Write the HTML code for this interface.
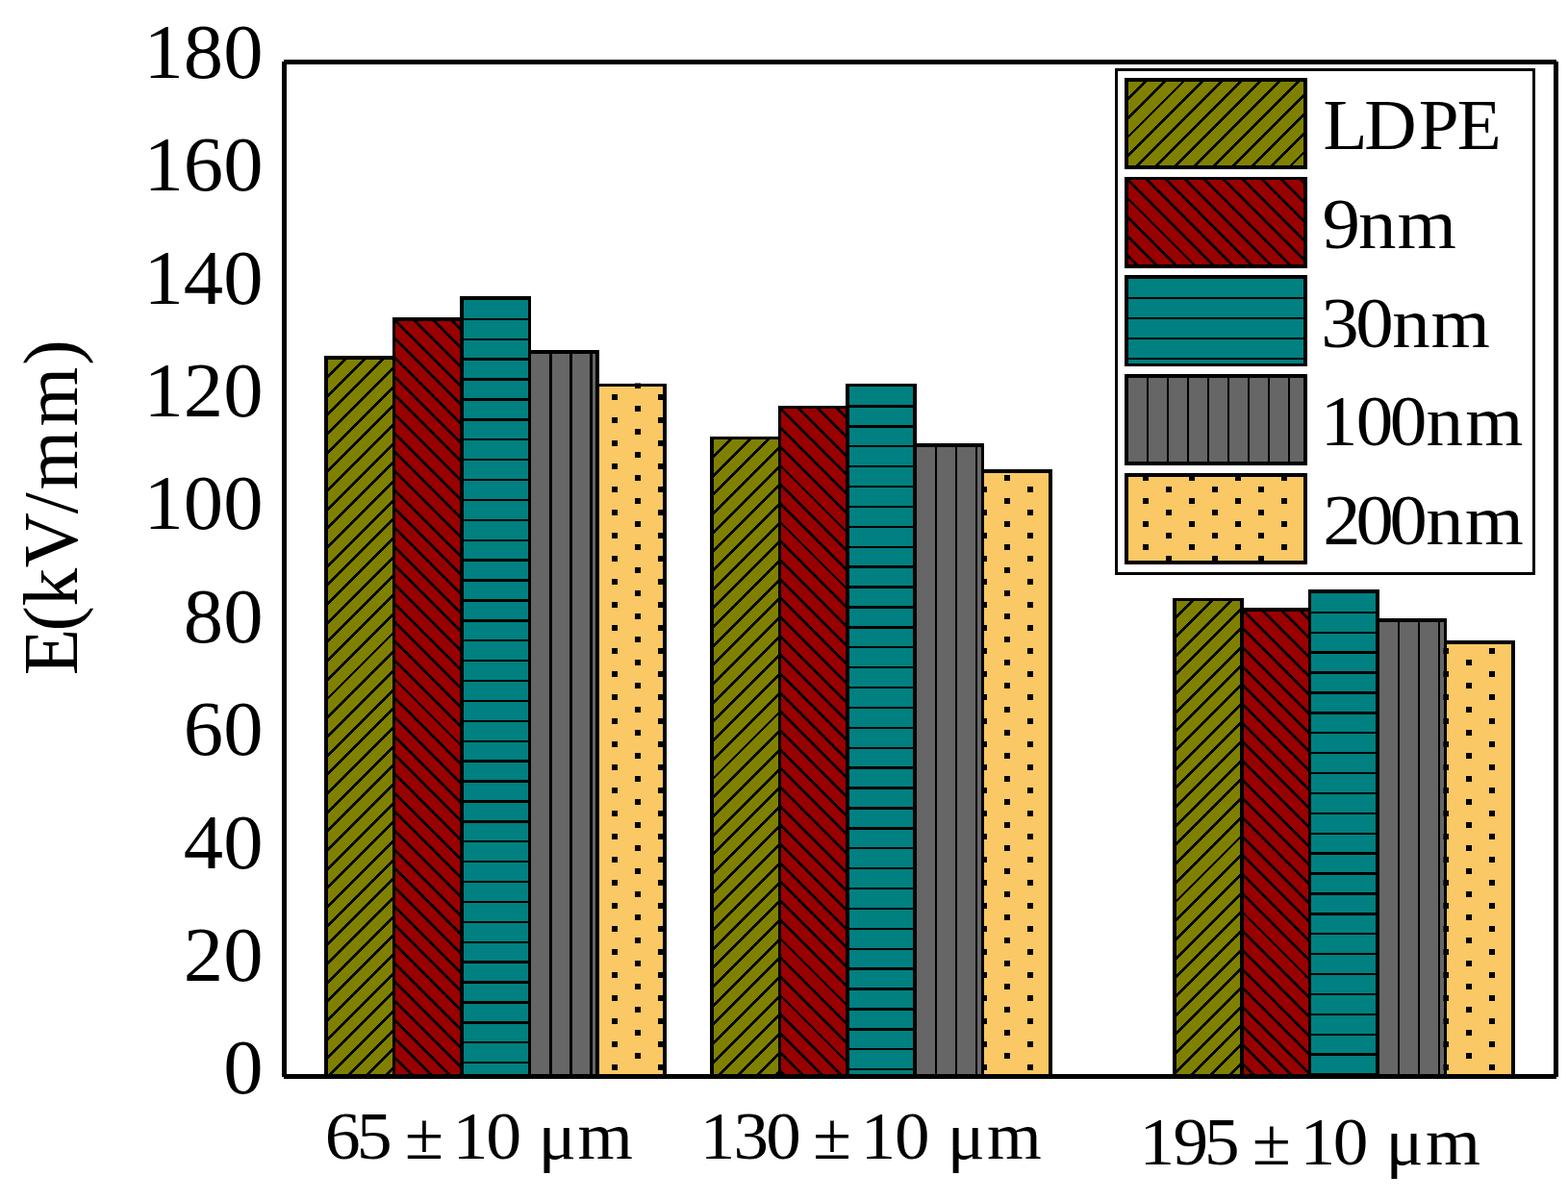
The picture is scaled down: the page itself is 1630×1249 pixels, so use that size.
<!DOCTYPE html>
<html><head><meta charset="utf-8"><title>E(kV/mm) bar chart</title>
<style>
html,body{margin:0;padding:0;background:#fff;}
svg{display:block;}
text{font-family:"Liberation Serif","DejaVu Serif",serif;fill:#000;}
</style></head>
<body>
<svg width="1630" height="1249" viewBox="0 0 1630 1249">
<defs>
<clipPath id="c339_372"><rect x="339.2" y="372.0" width="70.4" height="747.5"/></clipPath>
<clipPath id="c409_332"><rect x="409.6" y="332.0" width="70.4" height="787.5"/></clipPath>
<clipPath id="c480_310"><rect x="480.0" y="310.0" width="70.4" height="809.5"/></clipPath>
<clipPath id="c550_366"><rect x="550.4" y="366.0" width="70.4" height="753.5"/></clipPath>
<clipPath id="c620_400"><rect x="620.8" y="400.4" width="70.4" height="719.1"/></clipPath>
<clipPath id="d620_400"><rect x="618.8" y="398.4" width="74.4" height="721.1"/></clipPath>
<clipPath id="c740_455"><rect x="740.0" y="455.5" width="70.4" height="664.0"/></clipPath>
<clipPath id="c810_423"><rect x="810.4" y="423.5" width="70.4" height="696.0"/></clipPath>
<clipPath id="c880_400"><rect x="880.8" y="400.6" width="70.4" height="718.9"/></clipPath>
<clipPath id="c951_463"><rect x="951.2" y="463.0" width="70.4" height="656.5"/></clipPath>
<clipPath id="c1021_490"><rect x="1021.6" y="490.0" width="70.4" height="629.5"/></clipPath>
<clipPath id="d1021_490"><rect x="1019.6" y="488.0" width="74.4" height="631.5"/></clipPath>
<clipPath id="c1220_623"><rect x="1220.8" y="623.5" width="70.4" height="496.0"/></clipPath>
<clipPath id="c1291_634"><rect x="1291.2" y="634.0" width="70.4" height="485.5"/></clipPath>
<clipPath id="c1361_615"><rect x="1361.6" y="615.0" width="70.4" height="504.5"/></clipPath>
<clipPath id="c1432_645"><rect x="1432.0" y="645.0" width="70.4" height="474.5"/></clipPath>
<clipPath id="c1502_668"><rect x="1502.4" y="668.0" width="70.4" height="451.5"/></clipPath>
<clipPath id="d1502_668"><rect x="1500.4" y="666.0" width="74.4" height="453.5"/></clipPath>
<clipPath id="c1171_82"><rect x="1171.0" y="82.9" width="186.0" height="91.2"/></clipPath>
<clipPath id="c1171_185"><rect x="1171.0" y="185.6" width="186.0" height="91.2"/></clipPath>
<clipPath id="c1171_288"><rect x="1171.0" y="288.3" width="186.0" height="91.2"/></clipPath>
<clipPath id="c1171_391"><rect x="1171.0" y="391.0" width="186.0" height="91.2"/></clipPath>
<clipPath id="c1171_493"><rect x="1171.0" y="493.7" width="186.0" height="91.2"/></clipPath>
<clipPath id="d1171_493"><rect x="1169.0" y="491.7" width="190.0" height="95.2"/></clipPath>
</defs>
<rect width="1630" height="1249" fill="#fff"/>
<g shape-rendering="crispEdges">
<rect x="339.2" y="372.0" width="70.4" height="747.5" fill="#808000"/>
<path d="M321.40,352.00 L-466.10,1139.50 M341.08,352.00 L-446.42,1139.50 M360.76,352.00 L-426.74,1139.50 M380.44,352.00 L-407.06,1139.50 M400.12,352.00 L-387.38,1139.50 M419.80,352.00 L-367.70,1139.50 M439.48,352.00 L-348.02,1139.50 M459.16,352.00 L-328.34,1139.50 M478.84,352.00 L-308.66,1139.50 M498.52,352.00 L-288.98,1139.50 M518.20,352.00 L-269.30,1139.50 M537.88,352.00 L-249.62,1139.50 M557.56,352.00 L-229.94,1139.50 M577.24,352.00 L-210.26,1139.50 M596.92,352.00 L-190.58,1139.50 M616.60,352.00 L-170.90,1139.50 M636.28,352.00 L-151.22,1139.50 M655.96,352.00 L-131.54,1139.50 M675.64,352.00 L-111.86,1139.50 M695.32,352.00 L-92.18,1139.50 M715.00,352.00 L-72.50,1139.50 M734.68,352.00 L-52.82,1139.50 M754.36,352.00 L-33.14,1139.50 M774.04,352.00 L-13.46,1139.50 M793.72,352.00 L6.22,1139.50 M813.40,352.00 L25.90,1139.50 M833.08,352.00 L45.58,1139.50 M852.76,352.00 L65.26,1139.50 M872.44,352.00 L84.94,1139.50 M892.12,352.00 L104.62,1139.50 M911.80,352.00 L124.30,1139.50 M931.48,352.00 L143.98,1139.50 M951.16,352.00 L163.66,1139.50 M970.84,352.00 L183.34,1139.50 M990.52,352.00 L203.02,1139.50 M1010.20,352.00 L222.70,1139.50 M1029.88,352.00 L242.38,1139.50 M1049.56,352.00 L262.06,1139.50 M1069.24,352.00 L281.74,1139.50 M1088.92,352.00 L301.42,1139.50 M1108.60,352.00 L321.10,1139.50 M1128.28,352.00 L340.78,1139.50 M1147.96,352.00 L360.46,1139.50 M1167.64,352.00 L380.14,1139.50 M1187.32,352.00 L399.82,1139.50 M1207.00,352.00 L419.50,1139.50" stroke="#000" stroke-width="2.8" clip-path="url(#c339_372)"/>
<rect x="339.2" y="372.0" width="70.4" height="747.5" fill="none" stroke="#000" stroke-width="3.7"/>
<rect x="409.6" y="332.0" width="70.4" height="787.5" fill="#990000"/>
<path d="M-436.64,312.00 L390.86,1139.50 M-416.96,312.00 L410.54,1139.50 M-397.28,312.00 L430.22,1139.50 M-377.60,312.00 L449.90,1139.50 M-357.92,312.00 L469.58,1139.50 M-338.24,312.00 L489.26,1139.50 M-318.56,312.00 L508.94,1139.50 M-298.88,312.00 L528.62,1139.50 M-279.20,312.00 L548.30,1139.50 M-259.52,312.00 L567.98,1139.50 M-239.84,312.00 L587.66,1139.50 M-220.16,312.00 L607.34,1139.50 M-200.48,312.00 L627.02,1139.50 M-180.80,312.00 L646.70,1139.50 M-161.12,312.00 L666.38,1139.50 M-141.44,312.00 L686.06,1139.50 M-121.76,312.00 L705.74,1139.50 M-102.08,312.00 L725.42,1139.50 M-82.40,312.00 L745.10,1139.50 M-62.72,312.00 L764.78,1139.50 M-43.04,312.00 L784.46,1139.50 M-23.36,312.00 L804.14,1139.50 M-3.68,312.00 L823.82,1139.50 M16.00,312.00 L843.50,1139.50 M35.68,312.00 L863.18,1139.50 M55.36,312.00 L882.86,1139.50 M75.04,312.00 L902.54,1139.50 M94.72,312.00 L922.22,1139.50 M114.40,312.00 L941.90,1139.50 M134.08,312.00 L961.58,1139.50 M153.76,312.00 L981.26,1139.50 M173.44,312.00 L1000.94,1139.50 M193.12,312.00 L1020.62,1139.50 M212.80,312.00 L1040.30,1139.50 M232.48,312.00 L1059.98,1139.50 M252.16,312.00 L1079.66,1139.50 M271.84,312.00 L1099.34,1139.50 M291.52,312.00 L1119.02,1139.50 M311.20,312.00 L1138.70,1139.50 M330.88,312.00 L1158.38,1139.50 M350.56,312.00 L1178.06,1139.50 M370.24,312.00 L1197.74,1139.50 M389.92,312.00 L1217.42,1139.50 M409.60,312.00 L1237.10,1139.50 M429.28,312.00 L1256.78,1139.50 M448.96,312.00 L1276.46,1139.50 M468.64,312.00 L1296.14,1139.50 M488.32,312.00 L1315.82,1139.50" stroke="#000" stroke-width="2.8" clip-path="url(#c409_332)"/>
<rect x="409.6" y="332.0" width="70.4" height="787.5" fill="none" stroke="#000" stroke-width="3.7"/>
<rect x="480.0" y="310.0" width="70.4" height="809.5" fill="#008080"/>
<path d="M480.00,331.80 H550.40 M480.00,352.70 H550.40 M480.00,373.60 H550.40 M480.00,394.50 H550.40 M480.00,415.40 H550.40 M480.00,436.30 H550.40 M480.00,457.20 H550.40 M480.00,478.10 H550.40 M480.00,499.00 H550.40 M480.00,519.90 H550.40 M480.00,540.80 H550.40 M480.00,561.70 H550.40 M480.00,582.60 H550.40 M480.00,603.50 H550.40 M480.00,624.40 H550.40 M480.00,645.30 H550.40 M480.00,666.20 H550.40 M480.00,687.10 H550.40 M480.00,708.00 H550.40 M480.00,728.90 H550.40 M480.00,749.80 H550.40 M480.00,770.70 H550.40 M480.00,791.60 H550.40 M480.00,812.50 H550.40 M480.00,833.40 H550.40 M480.00,854.30 H550.40 M480.00,875.20 H550.40 M480.00,896.10 H550.40 M480.00,917.00 H550.40 M480.00,937.90 H550.40 M480.00,958.80 H550.40 M480.00,979.70 H550.40 M480.00,1000.60 H550.40 M480.00,1021.50 H550.40 M480.00,1042.40 H550.40 M480.00,1063.30 H550.40 M480.00,1084.20 H550.40 M480.00,1105.10 H550.40" stroke="#000" stroke-width="2.4"/>
<rect x="480.0" y="310.0" width="70.4" height="809.5" fill="none" stroke="#000" stroke-width="3.7"/>
<rect x="550.4" y="366.0" width="70.4" height="753.5" fill="#666666"/>
<path d="M572.40,366.00 V1119.50 M593.40,366.00 V1119.50 M614.40,366.00 V1119.50" stroke="#000" stroke-width="2.4"/>
<rect x="550.4" y="366.0" width="70.4" height="753.5" fill="none" stroke="#000" stroke-width="3.7"/>
<rect x="620.8" y="400.4" width="70.4" height="719.1" fill="#FAC864"/>
<rect x="620.8" y="400.4" width="70.4" height="719.1" fill="none" stroke="#000" stroke-width="3.7"/>
<path d="M635.7,409.8h6.0v6.0h-6.0zM635.7,433.9h6.0v6.0h-6.0zM635.7,457.9h6.0v6.0h-6.0zM635.7,482.0h6.0v6.0h-6.0zM635.7,506.0h6.0v6.0h-6.0zM635.7,530.1h6.0v6.0h-6.0zM635.7,554.1h6.0v6.0h-6.0zM635.7,578.1h6.0v6.0h-6.0zM635.7,602.2h6.0v6.0h-6.0zM635.7,626.2h6.0v6.0h-6.0zM635.7,650.3h6.0v6.0h-6.0zM635.7,674.3h6.0v6.0h-6.0zM635.7,698.4h6.0v6.0h-6.0zM635.7,722.4h6.0v6.0h-6.0zM635.7,746.5h6.0v6.0h-6.0zM635.7,770.5h6.0v6.0h-6.0zM635.7,794.6h6.0v6.0h-6.0zM635.7,818.6h6.0v6.0h-6.0zM635.7,842.7h6.0v6.0h-6.0zM635.7,866.7h6.0v6.0h-6.0zM635.7,890.8h6.0v6.0h-6.0zM635.7,914.8h6.0v6.0h-6.0zM635.7,938.9h6.0v6.0h-6.0zM635.7,962.9h6.0v6.0h-6.0zM635.7,987.0h6.0v6.0h-6.0zM635.7,1011.0h6.0v6.0h-6.0zM635.7,1035.1h6.0v6.0h-6.0zM635.7,1059.1h6.0v6.0h-6.0zM635.7,1083.2h6.0v6.0h-6.0zM635.7,1107.2h6.0v6.0h-6.0zM683.7,409.8h6.0v6.0h-6.0zM683.7,433.9h6.0v6.0h-6.0zM683.7,457.9h6.0v6.0h-6.0zM683.7,482.0h6.0v6.0h-6.0zM683.7,506.0h6.0v6.0h-6.0zM683.7,530.1h6.0v6.0h-6.0zM683.7,554.1h6.0v6.0h-6.0zM683.7,578.1h6.0v6.0h-6.0zM683.7,602.2h6.0v6.0h-6.0zM683.7,626.2h6.0v6.0h-6.0zM683.7,650.3h6.0v6.0h-6.0zM683.7,674.3h6.0v6.0h-6.0zM683.7,698.4h6.0v6.0h-6.0zM683.7,722.4h6.0v6.0h-6.0zM683.7,746.5h6.0v6.0h-6.0zM683.7,770.5h6.0v6.0h-6.0zM683.7,794.6h6.0v6.0h-6.0zM683.7,818.6h6.0v6.0h-6.0zM683.7,842.7h6.0v6.0h-6.0zM683.7,866.7h6.0v6.0h-6.0zM683.7,890.8h6.0v6.0h-6.0zM683.7,914.8h6.0v6.0h-6.0zM683.7,938.9h6.0v6.0h-6.0zM683.7,962.9h6.0v6.0h-6.0zM683.7,987.0h6.0v6.0h-6.0zM683.7,1011.0h6.0v6.0h-6.0zM683.7,1035.1h6.0v6.0h-6.0zM683.7,1059.1h6.0v6.0h-6.0zM683.7,1083.2h6.0v6.0h-6.0zM683.7,1107.2h6.0v6.0h-6.0zM611.7,397.8h6.0v6.0h-6.0zM611.7,421.9h6.0v6.0h-6.0zM611.7,445.9h6.0v6.0h-6.0zM611.7,470.0h6.0v6.0h-6.0zM611.7,494.0h6.0v6.0h-6.0zM611.7,518.1h6.0v6.0h-6.0zM611.7,542.1h6.0v6.0h-6.0zM611.7,566.1h6.0v6.0h-6.0zM611.7,590.2h6.0v6.0h-6.0zM611.7,614.2h6.0v6.0h-6.0zM611.7,638.3h6.0v6.0h-6.0zM611.7,662.3h6.0v6.0h-6.0zM611.7,686.4h6.0v6.0h-6.0zM611.7,710.4h6.0v6.0h-6.0zM611.7,734.5h6.0v6.0h-6.0zM611.7,758.5h6.0v6.0h-6.0zM611.7,782.6h6.0v6.0h-6.0zM611.7,806.6h6.0v6.0h-6.0zM611.7,830.7h6.0v6.0h-6.0zM611.7,854.7h6.0v6.0h-6.0zM611.7,878.8h6.0v6.0h-6.0zM611.7,902.8h6.0v6.0h-6.0zM611.7,926.9h6.0v6.0h-6.0zM611.7,950.9h6.0v6.0h-6.0zM611.7,975.0h6.0v6.0h-6.0zM611.7,999.0h6.0v6.0h-6.0zM611.7,1023.1h6.0v6.0h-6.0zM611.7,1047.1h6.0v6.0h-6.0zM611.7,1071.2h6.0v6.0h-6.0zM611.7,1095.2h6.0v6.0h-6.0zM611.7,1119.3h6.0v6.0h-6.0zM659.7,397.8h6.0v6.0h-6.0zM659.7,421.9h6.0v6.0h-6.0zM659.7,445.9h6.0v6.0h-6.0zM659.7,470.0h6.0v6.0h-6.0zM659.7,494.0h6.0v6.0h-6.0zM659.7,518.1h6.0v6.0h-6.0zM659.7,542.1h6.0v6.0h-6.0zM659.7,566.1h6.0v6.0h-6.0zM659.7,590.2h6.0v6.0h-6.0zM659.7,614.2h6.0v6.0h-6.0zM659.7,638.3h6.0v6.0h-6.0zM659.7,662.3h6.0v6.0h-6.0zM659.7,686.4h6.0v6.0h-6.0zM659.7,710.4h6.0v6.0h-6.0zM659.7,734.5h6.0v6.0h-6.0zM659.7,758.5h6.0v6.0h-6.0zM659.7,782.6h6.0v6.0h-6.0zM659.7,806.6h6.0v6.0h-6.0zM659.7,830.7h6.0v6.0h-6.0zM659.7,854.7h6.0v6.0h-6.0zM659.7,878.8h6.0v6.0h-6.0zM659.7,902.8h6.0v6.0h-6.0zM659.7,926.9h6.0v6.0h-6.0zM659.7,950.9h6.0v6.0h-6.0zM659.7,975.0h6.0v6.0h-6.0zM659.7,999.0h6.0v6.0h-6.0zM659.7,1023.1h6.0v6.0h-6.0zM659.7,1047.1h6.0v6.0h-6.0zM659.7,1071.2h6.0v6.0h-6.0zM659.7,1095.2h6.0v6.0h-6.0zM659.7,1119.3h6.0v6.0h-6.0z" fill="#000" clip-path="url(#d620_400)"/>
<rect x="740.0" y="455.5" width="70.4" height="664.0" fill="#808000"/>
<path d="M721.90,435.50 L17.90,1139.50 M741.58,435.50 L37.58,1139.50 M761.26,435.50 L57.26,1139.50 M780.94,435.50 L76.94,1139.50 M800.62,435.50 L96.62,1139.50 M820.30,435.50 L116.30,1139.50 M839.98,435.50 L135.98,1139.50 M859.66,435.50 L155.66,1139.50 M879.34,435.50 L175.34,1139.50 M899.02,435.50 L195.02,1139.50 M918.70,435.50 L214.70,1139.50 M938.38,435.50 L234.38,1139.50 M958.06,435.50 L254.06,1139.50 M977.74,435.50 L273.74,1139.50 M997.42,435.50 L293.42,1139.50 M1017.10,435.50 L313.10,1139.50 M1036.78,435.50 L332.78,1139.50 M1056.46,435.50 L352.46,1139.50 M1076.14,435.50 L372.14,1139.50 M1095.82,435.50 L391.82,1139.50 M1115.50,435.50 L411.50,1139.50 M1135.18,435.50 L431.18,1139.50 M1154.86,435.50 L450.86,1139.50 M1174.54,435.50 L470.54,1139.50 M1194.22,435.50 L490.22,1139.50 M1213.90,435.50 L509.90,1139.50 M1233.58,435.50 L529.58,1139.50 M1253.26,435.50 L549.26,1139.50 M1272.94,435.50 L568.94,1139.50 M1292.62,435.50 L588.62,1139.50 M1312.30,435.50 L608.30,1139.50 M1331.98,435.50 L627.98,1139.50 M1351.66,435.50 L647.66,1139.50 M1371.34,435.50 L667.34,1139.50 M1391.02,435.50 L687.02,1139.50 M1410.70,435.50 L706.70,1139.50 M1430.38,435.50 L726.38,1139.50 M1450.06,435.50 L746.06,1139.50 M1469.74,435.50 L765.74,1139.50 M1489.42,435.50 L785.42,1139.50 M1509.10,435.50 L805.10,1139.50" stroke="#000" stroke-width="2.8" clip-path="url(#c740_455)"/>
<rect x="740.0" y="455.5" width="70.4" height="664.0" fill="none" stroke="#000" stroke-width="3.7"/>
<rect x="810.4" y="423.5" width="70.4" height="696.0" fill="#990000"/>
<path d="M61.40,403.50 L797.40,1139.50 M81.08,403.50 L817.08,1139.50 M100.76,403.50 L836.76,1139.50 M120.44,403.50 L856.44,1139.50 M140.12,403.50 L876.12,1139.50 M159.80,403.50 L895.80,1139.50 M179.48,403.50 L915.48,1139.50 M199.16,403.50 L935.16,1139.50 M218.84,403.50 L954.84,1139.50 M238.52,403.50 L974.52,1139.50 M258.20,403.50 L994.20,1139.50 M277.88,403.50 L1013.88,1139.50 M297.56,403.50 L1033.56,1139.50 M317.24,403.50 L1053.24,1139.50 M336.92,403.50 L1072.92,1139.50 M356.60,403.50 L1092.60,1139.50 M376.28,403.50 L1112.28,1139.50 M395.96,403.50 L1131.96,1139.50 M415.64,403.50 L1151.64,1139.50 M435.32,403.50 L1171.32,1139.50 M455.00,403.50 L1191.00,1139.50 M474.68,403.50 L1210.68,1139.50 M494.36,403.50 L1230.36,1139.50 M514.04,403.50 L1250.04,1139.50 M533.72,403.50 L1269.72,1139.50 M553.40,403.50 L1289.40,1139.50 M573.08,403.50 L1309.08,1139.50 M592.76,403.50 L1328.76,1139.50 M612.44,403.50 L1348.44,1139.50 M632.12,403.50 L1368.12,1139.50 M651.80,403.50 L1387.80,1139.50 M671.48,403.50 L1407.48,1139.50 M691.16,403.50 L1427.16,1139.50 M710.84,403.50 L1446.84,1139.50 M730.52,403.50 L1466.52,1139.50 M750.20,403.50 L1486.20,1139.50 M769.88,403.50 L1505.88,1139.50 M789.56,403.50 L1525.56,1139.50 M809.24,403.50 L1545.24,1139.50 M828.92,403.50 L1564.92,1139.50 M848.60,403.50 L1584.60,1139.50 M868.28,403.50 L1604.28,1139.50 M887.96,403.50 L1623.96,1139.50" stroke="#000" stroke-width="2.8" clip-path="url(#c810_423)"/>
<rect x="810.4" y="423.5" width="70.4" height="696.0" fill="none" stroke="#000" stroke-width="3.7"/>
<rect x="880.8" y="400.6" width="70.4" height="718.9" fill="#008080"/>
<path d="M880.80,422.40 H951.20 M880.80,443.30 H951.20 M880.80,464.20 H951.20 M880.80,485.10 H951.20 M880.80,506.00 H951.20 M880.80,526.90 H951.20 M880.80,547.80 H951.20 M880.80,568.70 H951.20 M880.80,589.60 H951.20 M880.80,610.50 H951.20 M880.80,631.40 H951.20 M880.80,652.30 H951.20 M880.80,673.20 H951.20 M880.80,694.10 H951.20 M880.80,715.00 H951.20 M880.80,735.90 H951.20 M880.80,756.80 H951.20 M880.80,777.70 H951.20 M880.80,798.60 H951.20 M880.80,819.50 H951.20 M880.80,840.40 H951.20 M880.80,861.30 H951.20 M880.80,882.20 H951.20 M880.80,903.10 H951.20 M880.80,924.00 H951.20 M880.80,944.90 H951.20 M880.80,965.80 H951.20 M880.80,986.70 H951.20 M880.80,1007.60 H951.20 M880.80,1028.50 H951.20 M880.80,1049.40 H951.20 M880.80,1070.30 H951.20 M880.80,1091.20 H951.20 M880.80,1112.10 H951.20" stroke="#000" stroke-width="2.4"/>
<rect x="880.8" y="400.6" width="70.4" height="718.9" fill="none" stroke="#000" stroke-width="3.7"/>
<rect x="951.2" y="463.0" width="70.4" height="656.5" fill="#666666"/>
<path d="M973.20,463.00 V1119.50 M994.20,463.00 V1119.50 M1015.20,463.00 V1119.50" stroke="#000" stroke-width="2.4"/>
<rect x="951.2" y="463.0" width="70.4" height="656.5" fill="none" stroke="#000" stroke-width="3.7"/>
<rect x="1021.6" y="490.0" width="70.4" height="629.5" fill="#FAC864"/>
<rect x="1021.6" y="490.0" width="70.4" height="629.5" fill="none" stroke="#000" stroke-width="3.7"/>
<path d="M1019.7,482.0h6.0v6.0h-6.0zM1019.7,506.0h6.0v6.0h-6.0zM1019.7,530.1h6.0v6.0h-6.0zM1019.7,554.1h6.0v6.0h-6.0zM1019.7,578.1h6.0v6.0h-6.0zM1019.7,602.2h6.0v6.0h-6.0zM1019.7,626.2h6.0v6.0h-6.0zM1019.7,650.3h6.0v6.0h-6.0zM1019.7,674.3h6.0v6.0h-6.0zM1019.7,698.4h6.0v6.0h-6.0zM1019.7,722.4h6.0v6.0h-6.0zM1019.7,746.5h6.0v6.0h-6.0zM1019.7,770.5h6.0v6.0h-6.0zM1019.7,794.6h6.0v6.0h-6.0zM1019.7,818.6h6.0v6.0h-6.0zM1019.7,842.7h6.0v6.0h-6.0zM1019.7,866.7h6.0v6.0h-6.0zM1019.7,890.8h6.0v6.0h-6.0zM1019.7,914.8h6.0v6.0h-6.0zM1019.7,938.9h6.0v6.0h-6.0zM1019.7,962.9h6.0v6.0h-6.0zM1019.7,987.0h6.0v6.0h-6.0zM1019.7,1011.0h6.0v6.0h-6.0zM1019.7,1035.1h6.0v6.0h-6.0zM1019.7,1059.1h6.0v6.0h-6.0zM1019.7,1083.2h6.0v6.0h-6.0zM1019.7,1107.2h6.0v6.0h-6.0zM1067.7,482.0h6.0v6.0h-6.0zM1067.7,506.0h6.0v6.0h-6.0zM1067.7,530.1h6.0v6.0h-6.0zM1067.7,554.1h6.0v6.0h-6.0zM1067.7,578.1h6.0v6.0h-6.0zM1067.7,602.2h6.0v6.0h-6.0zM1067.7,626.2h6.0v6.0h-6.0zM1067.7,650.3h6.0v6.0h-6.0zM1067.7,674.3h6.0v6.0h-6.0zM1067.7,698.4h6.0v6.0h-6.0zM1067.7,722.4h6.0v6.0h-6.0zM1067.7,746.5h6.0v6.0h-6.0zM1067.7,770.5h6.0v6.0h-6.0zM1067.7,794.6h6.0v6.0h-6.0zM1067.7,818.6h6.0v6.0h-6.0zM1067.7,842.7h6.0v6.0h-6.0zM1067.7,866.7h6.0v6.0h-6.0zM1067.7,890.8h6.0v6.0h-6.0zM1067.7,914.8h6.0v6.0h-6.0zM1067.7,938.9h6.0v6.0h-6.0zM1067.7,962.9h6.0v6.0h-6.0zM1067.7,987.0h6.0v6.0h-6.0zM1067.7,1011.0h6.0v6.0h-6.0zM1067.7,1035.1h6.0v6.0h-6.0zM1067.7,1059.1h6.0v6.0h-6.0zM1067.7,1083.2h6.0v6.0h-6.0zM1067.7,1107.2h6.0v6.0h-6.0zM1043.7,494.0h6.0v6.0h-6.0zM1043.7,518.1h6.0v6.0h-6.0zM1043.7,542.1h6.0v6.0h-6.0zM1043.7,566.1h6.0v6.0h-6.0zM1043.7,590.2h6.0v6.0h-6.0zM1043.7,614.2h6.0v6.0h-6.0zM1043.7,638.3h6.0v6.0h-6.0zM1043.7,662.3h6.0v6.0h-6.0zM1043.7,686.4h6.0v6.0h-6.0zM1043.7,710.4h6.0v6.0h-6.0zM1043.7,734.5h6.0v6.0h-6.0zM1043.7,758.5h6.0v6.0h-6.0zM1043.7,782.6h6.0v6.0h-6.0zM1043.7,806.6h6.0v6.0h-6.0zM1043.7,830.7h6.0v6.0h-6.0zM1043.7,854.7h6.0v6.0h-6.0zM1043.7,878.8h6.0v6.0h-6.0zM1043.7,902.8h6.0v6.0h-6.0zM1043.7,926.9h6.0v6.0h-6.0zM1043.7,950.9h6.0v6.0h-6.0zM1043.7,975.0h6.0v6.0h-6.0zM1043.7,999.0h6.0v6.0h-6.0zM1043.7,1023.1h6.0v6.0h-6.0zM1043.7,1047.1h6.0v6.0h-6.0zM1043.7,1071.2h6.0v6.0h-6.0zM1043.7,1095.2h6.0v6.0h-6.0zM1043.7,1119.3h6.0v6.0h-6.0zM1091.7,494.0h6.0v6.0h-6.0zM1091.7,518.1h6.0v6.0h-6.0zM1091.7,542.1h6.0v6.0h-6.0zM1091.7,566.1h6.0v6.0h-6.0zM1091.7,590.2h6.0v6.0h-6.0zM1091.7,614.2h6.0v6.0h-6.0zM1091.7,638.3h6.0v6.0h-6.0zM1091.7,662.3h6.0v6.0h-6.0zM1091.7,686.4h6.0v6.0h-6.0zM1091.7,710.4h6.0v6.0h-6.0zM1091.7,734.5h6.0v6.0h-6.0zM1091.7,758.5h6.0v6.0h-6.0zM1091.7,782.6h6.0v6.0h-6.0zM1091.7,806.6h6.0v6.0h-6.0zM1091.7,830.7h6.0v6.0h-6.0zM1091.7,854.7h6.0v6.0h-6.0zM1091.7,878.8h6.0v6.0h-6.0zM1091.7,902.8h6.0v6.0h-6.0zM1091.7,926.9h6.0v6.0h-6.0zM1091.7,950.9h6.0v6.0h-6.0zM1091.7,975.0h6.0v6.0h-6.0zM1091.7,999.0h6.0v6.0h-6.0zM1091.7,1023.1h6.0v6.0h-6.0zM1091.7,1047.1h6.0v6.0h-6.0zM1091.7,1071.2h6.0v6.0h-6.0zM1091.7,1095.2h6.0v6.0h-6.0zM1091.7,1119.3h6.0v6.0h-6.0z" fill="#000" clip-path="url(#d1021_490)"/>
<rect x="1220.8" y="623.5" width="70.4" height="496.0" fill="#808000"/>
<path d="M1202.26,603.50 L666.26,1139.50 M1221.94,603.50 L685.94,1139.50 M1241.62,603.50 L705.62,1139.50 M1261.30,603.50 L725.30,1139.50 M1280.98,603.50 L744.98,1139.50 M1300.66,603.50 L764.66,1139.50 M1320.34,603.50 L784.34,1139.50 M1340.02,603.50 L804.02,1139.50 M1359.70,603.50 L823.70,1139.50 M1379.38,603.50 L843.38,1139.50 M1399.06,603.50 L863.06,1139.50 M1418.74,603.50 L882.74,1139.50 M1438.42,603.50 L902.42,1139.50 M1458.10,603.50 L922.10,1139.50 M1477.78,603.50 L941.78,1139.50 M1497.46,603.50 L961.46,1139.50 M1517.14,603.50 L981.14,1139.50 M1536.82,603.50 L1000.82,1139.50 M1556.50,603.50 L1020.50,1139.50 M1576.18,603.50 L1040.18,1139.50 M1595.86,603.50 L1059.86,1139.50 M1615.54,603.50 L1079.54,1139.50 M1635.22,603.50 L1099.22,1139.50 M1654.90,603.50 L1118.90,1139.50 M1674.58,603.50 L1138.58,1139.50 M1694.26,603.50 L1158.26,1139.50 M1713.94,603.50 L1177.94,1139.50 M1733.62,603.50 L1197.62,1139.50 M1753.30,603.50 L1217.30,1139.50 M1772.98,603.50 L1236.98,1139.50 M1792.66,603.50 L1256.66,1139.50 M1812.34,603.50 L1276.34,1139.50 M1832.02,603.50 L1296.02,1139.50" stroke="#000" stroke-width="2.8" clip-path="url(#c1220_623)"/>
<rect x="1220.8" y="623.5" width="70.4" height="496.0" fill="none" stroke="#000" stroke-width="3.7"/>
<rect x="1291.2" y="634.0" width="70.4" height="485.5" fill="#990000"/>
<path d="M740.52,614.00 L1266.02,1139.50 M760.20,614.00 L1285.70,1139.50 M779.88,614.00 L1305.38,1139.50 M799.56,614.00 L1325.06,1139.50 M819.24,614.00 L1344.74,1139.50 M838.92,614.00 L1364.42,1139.50 M858.60,614.00 L1384.10,1139.50 M878.28,614.00 L1403.78,1139.50 M897.96,614.00 L1423.46,1139.50 M917.64,614.00 L1443.14,1139.50 M937.32,614.00 L1462.82,1139.50 M957.00,614.00 L1482.50,1139.50 M976.68,614.00 L1502.18,1139.50 M996.36,614.00 L1521.86,1139.50 M1016.04,614.00 L1541.54,1139.50 M1035.72,614.00 L1561.22,1139.50 M1055.40,614.00 L1580.90,1139.50 M1075.08,614.00 L1600.58,1139.50 M1094.76,614.00 L1620.26,1139.50 M1114.44,614.00 L1639.94,1139.50 M1134.12,614.00 L1659.62,1139.50 M1153.80,614.00 L1679.30,1139.50 M1173.48,614.00 L1698.98,1139.50 M1193.16,614.00 L1718.66,1139.50 M1212.84,614.00 L1738.34,1139.50 M1232.52,614.00 L1758.02,1139.50 M1252.20,614.00 L1777.70,1139.50 M1271.88,614.00 L1797.38,1139.50 M1291.56,614.00 L1817.06,1139.50 M1311.24,614.00 L1836.74,1139.50 M1330.92,614.00 L1856.42,1139.50 M1350.60,614.00 L1876.10,1139.50 M1370.28,614.00 L1895.78,1139.50" stroke="#000" stroke-width="2.8" clip-path="url(#c1291_634)"/>
<rect x="1291.2" y="634.0" width="70.4" height="485.5" fill="none" stroke="#000" stroke-width="3.7"/>
<rect x="1361.6" y="615.0" width="70.4" height="504.5" fill="#008080"/>
<path d="M1361.60,636.80 H1432.00 M1361.60,657.70 H1432.00 M1361.60,678.60 H1432.00 M1361.60,699.50 H1432.00 M1361.60,720.40 H1432.00 M1361.60,741.30 H1432.00 M1361.60,762.20 H1432.00 M1361.60,783.10 H1432.00 M1361.60,804.00 H1432.00 M1361.60,824.90 H1432.00 M1361.60,845.80 H1432.00 M1361.60,866.70 H1432.00 M1361.60,887.60 H1432.00 M1361.60,908.50 H1432.00 M1361.60,929.40 H1432.00 M1361.60,950.30 H1432.00 M1361.60,971.20 H1432.00 M1361.60,992.10 H1432.00 M1361.60,1013.00 H1432.00 M1361.60,1033.90 H1432.00 M1361.60,1054.80 H1432.00 M1361.60,1075.70 H1432.00 M1361.60,1096.60 H1432.00 M1361.60,1117.50 H1432.00" stroke="#000" stroke-width="2.4"/>
<rect x="1361.6" y="615.0" width="70.4" height="504.5" fill="none" stroke="#000" stroke-width="3.7"/>
<rect x="1432.0" y="645.0" width="70.4" height="474.5" fill="#666666"/>
<path d="M1454.00,645.00 V1119.50 M1475.00,645.00 V1119.50 M1496.00,645.00 V1119.50" stroke="#000" stroke-width="2.4"/>
<rect x="1432.0" y="645.0" width="70.4" height="474.5" fill="none" stroke="#000" stroke-width="3.7"/>
<rect x="1502.4" y="668.0" width="70.4" height="451.5" fill="#FAC864"/>
<rect x="1502.4" y="668.0" width="70.4" height="451.5" fill="none" stroke="#000" stroke-width="3.7"/>
<path d="M1499.7,674.3h6.0v6.0h-6.0zM1499.7,698.4h6.0v6.0h-6.0zM1499.7,722.4h6.0v6.0h-6.0zM1499.7,746.5h6.0v6.0h-6.0zM1499.7,770.5h6.0v6.0h-6.0zM1499.7,794.6h6.0v6.0h-6.0zM1499.7,818.6h6.0v6.0h-6.0zM1499.7,842.7h6.0v6.0h-6.0zM1499.7,866.7h6.0v6.0h-6.0zM1499.7,890.8h6.0v6.0h-6.0zM1499.7,914.8h6.0v6.0h-6.0zM1499.7,938.9h6.0v6.0h-6.0zM1499.7,962.9h6.0v6.0h-6.0zM1499.7,987.0h6.0v6.0h-6.0zM1499.7,1011.0h6.0v6.0h-6.0zM1499.7,1035.1h6.0v6.0h-6.0zM1499.7,1059.1h6.0v6.0h-6.0zM1499.7,1083.2h6.0v6.0h-6.0zM1499.7,1107.2h6.0v6.0h-6.0zM1547.7,674.3h6.0v6.0h-6.0zM1547.7,698.4h6.0v6.0h-6.0zM1547.7,722.4h6.0v6.0h-6.0zM1547.7,746.5h6.0v6.0h-6.0zM1547.7,770.5h6.0v6.0h-6.0zM1547.7,794.6h6.0v6.0h-6.0zM1547.7,818.6h6.0v6.0h-6.0zM1547.7,842.7h6.0v6.0h-6.0zM1547.7,866.7h6.0v6.0h-6.0zM1547.7,890.8h6.0v6.0h-6.0zM1547.7,914.8h6.0v6.0h-6.0zM1547.7,938.9h6.0v6.0h-6.0zM1547.7,962.9h6.0v6.0h-6.0zM1547.7,987.0h6.0v6.0h-6.0zM1547.7,1011.0h6.0v6.0h-6.0zM1547.7,1035.1h6.0v6.0h-6.0zM1547.7,1059.1h6.0v6.0h-6.0zM1547.7,1083.2h6.0v6.0h-6.0zM1547.7,1107.2h6.0v6.0h-6.0zM1523.7,662.3h6.0v6.0h-6.0zM1523.7,686.4h6.0v6.0h-6.0zM1523.7,710.4h6.0v6.0h-6.0zM1523.7,734.5h6.0v6.0h-6.0zM1523.7,758.5h6.0v6.0h-6.0zM1523.7,782.6h6.0v6.0h-6.0zM1523.7,806.6h6.0v6.0h-6.0zM1523.7,830.7h6.0v6.0h-6.0zM1523.7,854.7h6.0v6.0h-6.0zM1523.7,878.8h6.0v6.0h-6.0zM1523.7,902.8h6.0v6.0h-6.0zM1523.7,926.9h6.0v6.0h-6.0zM1523.7,950.9h6.0v6.0h-6.0zM1523.7,975.0h6.0v6.0h-6.0zM1523.7,999.0h6.0v6.0h-6.0zM1523.7,1023.1h6.0v6.0h-6.0zM1523.7,1047.1h6.0v6.0h-6.0zM1523.7,1071.2h6.0v6.0h-6.0zM1523.7,1095.2h6.0v6.0h-6.0zM1523.7,1119.3h6.0v6.0h-6.0zM1571.7,662.3h6.0v6.0h-6.0zM1571.7,686.4h6.0v6.0h-6.0zM1571.7,710.4h6.0v6.0h-6.0zM1571.7,734.5h6.0v6.0h-6.0zM1571.7,758.5h6.0v6.0h-6.0zM1571.7,782.6h6.0v6.0h-6.0zM1571.7,806.6h6.0v6.0h-6.0zM1571.7,830.7h6.0v6.0h-6.0zM1571.7,854.7h6.0v6.0h-6.0zM1571.7,878.8h6.0v6.0h-6.0zM1571.7,902.8h6.0v6.0h-6.0zM1571.7,926.9h6.0v6.0h-6.0zM1571.7,950.9h6.0v6.0h-6.0zM1571.7,975.0h6.0v6.0h-6.0zM1571.7,999.0h6.0v6.0h-6.0zM1571.7,1023.1h6.0v6.0h-6.0zM1571.7,1047.1h6.0v6.0h-6.0zM1571.7,1071.2h6.0v6.0h-6.0zM1571.7,1095.2h6.0v6.0h-6.0zM1571.7,1119.3h6.0v6.0h-6.0z" fill="#000" clip-path="url(#d1502_668)"/>
<path d="M295,62h1323v5h-1323z M295,1117h1323v5h-1323z M293,64h5v1056h-5z M1615,64h5v1056h-5z" fill="#000"/>
<rect x="1160.5" y="72.5" width="434" height="523.5" fill="#fff" stroke="#000" stroke-width="3"/>
<rect x="1171.0" y="82.9" width="186.0" height="91.2" fill="#808000"/>
<path d="M1152.60,62.90 L1021.40,194.10 M1172.50,62.90 L1041.30,194.10 M1192.40,62.90 L1061.20,194.10 M1212.30,62.90 L1081.10,194.10 M1232.20,62.90 L1101.00,194.10 M1252.10,62.90 L1120.90,194.10 M1272.00,62.90 L1140.80,194.10 M1291.90,62.90 L1160.70,194.10 M1311.80,62.90 L1180.60,194.10 M1331.70,62.90 L1200.50,194.10 M1351.60,62.90 L1220.40,194.10 M1371.50,62.90 L1240.30,194.10 M1391.40,62.90 L1260.20,194.10 M1411.30,62.90 L1280.10,194.10 M1431.20,62.90 L1300.00,194.10 M1451.10,62.90 L1319.90,194.10 M1471.00,62.90 L1339.80,194.10 M1490.90,62.90 L1359.70,194.10" stroke="#000" stroke-width="2.8" clip-path="url(#c1171_82)"/>
<rect x="1171.0" y="82.9" width="186.0" height="91.2" fill="none" stroke="#000" stroke-width="3.7"/>
<rect x="1171.0" y="185.6" width="186.0" height="91.2" fill="#990000"/>
<path d="M1012.20,165.60 L1143.40,296.80 M1032.10,165.60 L1163.30,296.80 M1052.00,165.60 L1183.20,296.80 M1071.90,165.60 L1203.10,296.80 M1091.80,165.60 L1223.00,296.80 M1111.70,165.60 L1242.90,296.80 M1131.60,165.60 L1262.80,296.80 M1151.50,165.60 L1282.70,296.80 M1171.40,165.60 L1302.60,296.80 M1191.30,165.60 L1322.50,296.80 M1211.20,165.60 L1342.40,296.80 M1231.10,165.60 L1362.30,296.80 M1251.00,165.60 L1382.20,296.80 M1270.90,165.60 L1402.10,296.80 M1290.80,165.60 L1422.00,296.80 M1310.70,165.60 L1441.90,296.80 M1330.60,165.60 L1461.80,296.80 M1350.50,165.60 L1481.70,296.80" stroke="#000" stroke-width="2.8" clip-path="url(#c1171_185)"/>
<rect x="1171.0" y="185.6" width="186.0" height="91.2" fill="none" stroke="#000" stroke-width="3.7"/>
<rect x="1171.0" y="288.3" width="186.0" height="91.2" fill="#008080"/>
<path d="M1171.00,310.10 H1357.00 M1171.00,331.00 H1357.00 M1171.00,351.90 H1357.00 M1171.00,372.80 H1357.00" stroke="#000" stroke-width="2.4"/>
<rect x="1171.0" y="288.3" width="186.0" height="91.2" fill="none" stroke="#000" stroke-width="3.7"/>
<rect x="1171.0" y="391.0" width="186.0" height="91.2" fill="#666666"/>
<path d="M1193.00,391.00 V482.20 M1214.00,391.00 V482.20 M1235.00,391.00 V482.20 M1256.00,391.00 V482.20 M1277.00,391.00 V482.20 M1298.00,391.00 V482.20 M1319.00,391.00 V482.20 M1340.00,391.00 V482.20" stroke="#000" stroke-width="2.4"/>
<rect x="1171.0" y="391.0" width="186.0" height="91.2" fill="none" stroke="#000" stroke-width="3.7"/>
<rect x="1171.0" y="493.7" width="186.0" height="91.2" fill="#FAC864"/>
<rect x="1171.0" y="493.7" width="186.0" height="91.2" fill="none" stroke="#000" stroke-width="3.7"/>
<path d="M1163.7,506.0h6.0v6.0h-6.0zM1163.7,530.1h6.0v6.0h-6.0zM1163.7,554.1h6.0v6.0h-6.0zM1163.7,578.1h6.0v6.0h-6.0zM1211.7,506.0h6.0v6.0h-6.0zM1211.7,530.1h6.0v6.0h-6.0zM1211.7,554.1h6.0v6.0h-6.0zM1211.7,578.1h6.0v6.0h-6.0zM1259.7,506.0h6.0v6.0h-6.0zM1259.7,530.1h6.0v6.0h-6.0zM1259.7,554.1h6.0v6.0h-6.0zM1259.7,578.1h6.0v6.0h-6.0zM1307.7,506.0h6.0v6.0h-6.0zM1307.7,530.1h6.0v6.0h-6.0zM1307.7,554.1h6.0v6.0h-6.0zM1307.7,578.1h6.0v6.0h-6.0zM1355.7,506.0h6.0v6.0h-6.0zM1355.7,530.1h6.0v6.0h-6.0zM1355.7,554.1h6.0v6.0h-6.0zM1355.7,578.1h6.0v6.0h-6.0zM1187.7,494.0h6.0v6.0h-6.0zM1187.7,518.1h6.0v6.0h-6.0zM1187.7,542.1h6.0v6.0h-6.0zM1187.7,566.1h6.0v6.0h-6.0zM1235.7,494.0h6.0v6.0h-6.0zM1235.7,518.1h6.0v6.0h-6.0zM1235.7,542.1h6.0v6.0h-6.0zM1235.7,566.1h6.0v6.0h-6.0zM1283.7,494.0h6.0v6.0h-6.0zM1283.7,518.1h6.0v6.0h-6.0zM1283.7,542.1h6.0v6.0h-6.0zM1283.7,566.1h6.0v6.0h-6.0zM1331.7,494.0h6.0v6.0h-6.0zM1331.7,518.1h6.0v6.0h-6.0zM1331.7,542.1h6.0v6.0h-6.0zM1331.7,566.1h6.0v6.0h-6.0z" fill="#000" clip-path="url(#d1171_493)"/>
</g>
<text transform="translate(149.46,80.80) scale(1.035,1)" font-size="79.9">180</text>
<text transform="translate(149.46,198.21) scale(1.035,1)" font-size="79.9">160</text>
<text transform="translate(149.46,315.62) scale(1.035,1)" font-size="79.9">140</text>
<text transform="translate(149.46,433.03) scale(1.035,1)" font-size="79.9">120</text>
<text transform="translate(149.46,550.44) scale(1.035,1)" font-size="79.9">100</text>
<text transform="translate(190.81,667.85) scale(1.035,1)" font-size="79.9">80</text>
<text transform="translate(190.81,785.26) scale(1.035,1)" font-size="79.9">60</text>
<text transform="translate(190.81,902.67) scale(1.035,1)" font-size="79.9">40</text>
<text transform="translate(190.81,1020.08) scale(1.035,1)" font-size="79.9">20</text>
<text transform="translate(232.16,1137.49) scale(1.035,1)" font-size="79.9">0</text>
<text transform="translate(0,1205.00) scale(1.0609,1)" x="318.38 349.56 384.36 396.50 434.70 443.38 476.14 510.94 527.41 566.08" y="0" font-size="69.60">65 ± 10 μm</text>
<text transform="translate(0,1205.00) scale(1.0495,1)" x="693.38 726.56 758.74 793.54 805.07 843.27 852.45 886.18 920.98 938.28 977.63" y="0" font-size="69.60">130 ± 10 μm</text>
<text transform="translate(0,1211.00) scale(1.0523,1)" x="1125.71 1158.80 1189.68 1224.48 1237.15 1275.36 1284.41 1316.91 1351.71 1369.01 1408.33" y="0" font-size="69.60">195 ± 10 μm</text>
<text transform="translate(0,154.90) scale(1.0244,1)" x="1342.64 1384.47 1439.55 1478.69" y="0" font-size="73.50">LDPE</text>
<text transform="translate(0,258.00) scale(1.0742,1)" x="1279.60 1314.56 1352.21" y="0" font-size="73.50">9nm</text>
<text transform="translate(0,360.70) scale(1.0737,1)" x="1279.07 1312.60 1347.89 1385.48" y="0" font-size="73.50">30nm</text>
<text transform="translate(0,463.00) scale(1.0503,1)" x="1307.10 1342.24 1375.66 1411.60 1450.40" y="0" font-size="73.50">100nm</text>
<text transform="translate(0,566.00) scale(1.0684,1)" x="1287.30 1319.23 1352.09 1387.42 1425.38" y="0" font-size="73.50">200nm</text>
<text transform="translate(79.8,700.0) rotate(-90)" x="-2.32 43.55 69.41 109.47 165.83 190.63 256.58 320.25" y="0" font-size="79.4">E(kV/mm)</text>
</svg>
</body></html>
